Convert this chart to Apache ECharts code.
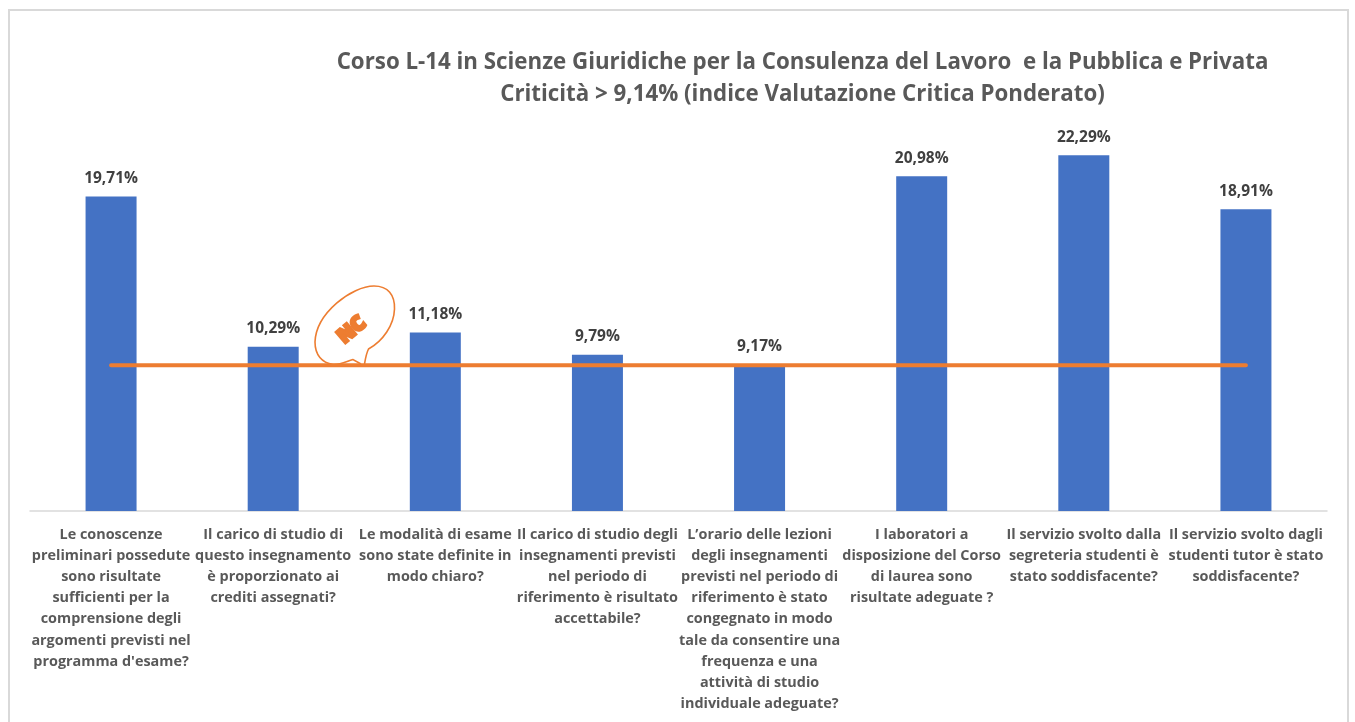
<!DOCTYPE html>
<html>
<head>
<meta charset="utf-8">
<style>html,body{margin:0;padding:0;background:#fff}#c{width:1355px;height:722px}</style>
<script src="https://cdn.jsdelivr.net/npm/echarts@6/dist/echarts.min.js"></script>
</head>
<body>
<div id="c"></div>
<script>
const titleText = "Corso L-14 in Scienze Giuridiche per la Consulenza del Lavoro  e la Pubblica e Privata\nCriticità > 9,14% (indice Valutazione Critica Ponderato)";
const categories = [
  "Le conoscenze\npreliminari possedute\nsono risultate\nsufficienti per la\ncomprensione degli\nargomenti previsti nel\nprogramma d'esame?",
  "Il carico di studio di\nquesto insegnamento\nè proporzionato ai\ncrediti assegnati?",
  "Le modalità di esame\nsono state definite in\nmodo chiaro?",
  "Il carico di studio degli\ninsegnamenti previsti\nnel periodo di\nriferimento è risultato\naccettabile?",
  "L’orario delle lezioni\ndegli insegnamenti\nprevisti nel periodo di\nriferimento è stato\ncongegnato in modo\ntale da consentire una\nfrequenza e una\nattività di studio\nindividuale adeguate?",
  "I laboratori a\ndisposizione del Corso\ndi laurea sono\nrisultate adeguate ?",
  "Il servizio svolto dalla\nsegreteria studenti è\nstato soddisfacente?",
  "Il servizio svolto dagli\nstudenti tutor è stato\nsoddisfacente?"
];
const critValues = [19.71, 10.29, 11.18, 9.79, 9.17, 20.98, 22.29, 18.91];
const thresholdValues = [9.14, 9.14, 9.14, 9.14, 9.14, 9.14, 9.14, 9.14];

const FONT = '"Open Sans", sans-serif';
const bubblePath = 'M364.5 364 C365.5 358 366.5 353 368.5 349 C383 341 394 325 394.5 309 C395 295 388 286 374 286 C352 286 316 313 315 342 C315 355 322 363 333 364.5 C341 365 347 361 353 359.5 L361 364';
echarts.graphic.registerShape('ncBubble', echarts.graphic.extendPath(bubblePath, {}));

const chart = echarts.init(document.getElementById('c'), null, {renderer: 'canvas'});
chart.setOption({
  animation: false,
  backgroundColor: '#fff',
  title: {
    text: titleText,
    left: 797.5, top: 42, textAlign: 'center',
    textStyle: {fontFamily: FONT, fontSize: 22.3, fontWeight: 'bold', color: '#595959', lineHeight: 32}
  },
  grid: {left: 30, right: 28, top: 112, height: 399, containLabel: false},
  xAxis: {
    type: 'category',
    data: categories,
    axisTick: {show: false},
    axisLine: {lineStyle: {color: '#d9d9d9', width: 1.5}},
    axisLabel: {
      interval: 0, margin: 13, align: 'center',
      fontFamily: FONT, fontSize: 14.4, fontWeight: 'bold', color: '#595959', lineHeight: 21.2
    }
  },
  yAxis: {type: 'value', min: 0, max: 25, show: false, splitLine: {show: false}},
  series: [
    {
      type: 'bar', data: critValues, barWidth: 51,
      itemStyle: {color: '#4472c4'},
      label: {
        show: true, position: 'top', distance: 10,
        formatter: p => p.value.toFixed(2).replace('.', ',') + '%',
        fontFamily: FONT, fontSize: 15.5, fontWeight: 'bold', color: '#404040'
      }
    },
    {
      type: 'line', data: thresholdValues, symbol: 'none',
      lineStyle: {color: '#ed7d31', width: 4, cap: 'round'}, z: 5
    }
  ],
  graphic: [
    {type: 'rect', silent: true, z: -1,
     shape: {x: 9, y: 10, width: 1339, height: 760},
     style: {fill: 'none', stroke: '#d9d9d9', lineWidth: 2}},
    {type: 'ncBubble', silent: true, z: 1,
     style: {fill: '#fff', stroke: '#ed7d31', lineWidth: 1.6}},
    {type: 'text', silent: true, z: 2, x: 352, y: 330, rotation: 0.7, originX: 0, originY: 0,
     style: {text: 'NC', x: 0, y: 0, align: 'center', verticalAlign: 'middle',
             fontFamily: FONT, fontSize: 20, fontWeight: 800, fill: '#ed7d31', stroke: '#ed7d31', lineWidth: 3, lineJoin: 'round'}}
  ]
});
</script>
</body>
</html>
